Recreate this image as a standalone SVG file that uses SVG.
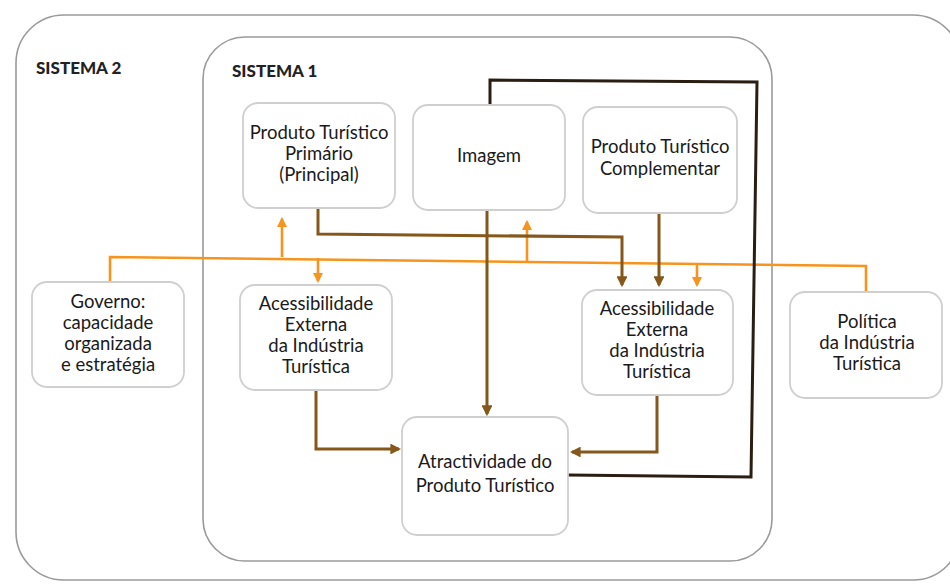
<svg xmlns="http://www.w3.org/2000/svg" width="950" height="584" viewBox="0 0 950 584">
<defs>
<style>
.frame{fill:none;stroke:#9a9a9a;stroke-width:1.6}
.node{fill:#fff;stroke:#cfcfcf;stroke-width:1.8}
.t{font-family:Lato,"Open Sans",sans-serif;font-size:18.5px;fill:#1a1a1a;text-anchor:middle}
.h{font-family:Lato,"Open Sans",sans-serif;font-size:17px;font-weight:900;fill:#222}
.or{fill:none;stroke:#f7941d;stroke-width:2.6}
.br{fill:none;stroke:#85571a;stroke-width:3}
.bk{fill:none;stroke:#2a1d12;stroke-width:3}
</style>
<marker id="ao" viewBox="0 0 10 10" refX="8" refY="5" markerWidth="4" markerHeight="4" orient="auto" markerUnits="strokeWidth">
<path d="M0,0 L10,5 L0,10 z" fill="#f7941d"/>
</marker>
<marker id="ab" viewBox="0 0 10 10" refX="8" refY="5" markerWidth="3.6" markerHeight="3.6" orient="auto" markerUnits="strokeWidth">
<path d="M0,0 L10,5 L0,10 z" fill="#85571a"/>
</marker>
</defs>
<rect width="950" height="584" fill="#fff"/>
<g id="sistema2">
<rect class="frame" x="16" y="15" width="945" height="565" rx="48"/>
<text class="h" x="36" y="74">SISTEMA 2</text>
</g>
<g id="sistema1">
<rect class="frame" x="203" y="37" width="569" height="524" rx="42"/>
<text class="h" x="232" y="77">SISTEMA 1</text>
</g>
<g id="connectors">
<path class="or" d="M110,282 V257 L866,266 V292"/>
<path class="or" d="M282,257 V219" marker-end="url(#ao)"/>
<path class="or" d="M318,258 V281" marker-end="url(#ao)"/>
<path class="or" d="M527,262 V222" marker-end="url(#ao)"/>
<path class="or" d="M697,264 V285" marker-end="url(#ao)"/>
<path class="br" d="M318,208 V234 L622,237 V285" marker-end="url(#ab)"/>
<path class="br" d="M659,213 V285" marker-end="url(#ab)"/>
<path class="br" d="M487,210 V414" marker-end="url(#ab)"/>
<path class="br" d="M316,390 V449 H399" marker-end="url(#ab)"/>
<path class="br" d="M657,395 V452 H572" marker-end="url(#ab)"/>
<path class="bk" d="M490,105 V80 L757,82 L751,477 L568,475"/>
</g>
<g id="primario">
<rect class="node" x="243" y="103" width="152" height="105" rx="15"/>
<text class="t" x="319" y="139">Produto Turístico</text>
<text class="t" x="319" y="160">Primário</text>
<text class="t" x="319" y="181">(Principal)</text>
</g>
<g id="imagem">
<rect class="node" x="413" y="105" width="152" height="105" rx="15"/>
<text class="t" x="489" y="162">Imagem</text>
</g>
<g id="complementar">
<rect class="node" x="583" y="107" width="154" height="106" rx="15"/>
<text class="t" x="660" y="153">Produto Turístico</text>
<text class="t" x="660" y="175">Complementar</text>
</g>
<g id="governo">
<rect class="node" x="32" y="282" width="152" height="105" rx="15"/>
<text class="t" x="108" y="308">Governo:</text>
<text class="t" x="108" y="329">capacidade</text>
<text class="t" x="108" y="350">organizada</text>
<text class="t" x="108" y="371">e estratégia</text>
</g>
<g id="acess1">
<rect class="node" x="240" y="285" width="152" height="105" rx="15"/>
<text class="t" x="316" y="310">Acessibilidade</text>
<text class="t" x="316" y="331">Externa</text>
<text class="t" x="316" y="352">da Indústria</text>
<text class="t" x="316" y="373">Turística</text>
</g>
<g id="acess2">
<rect class="node" x="582" y="290" width="151" height="105" rx="15"/>
<text class="t" x="657" y="315">Acessibilidade</text>
<text class="t" x="657" y="336">Externa</text>
<text class="t" x="657" y="357">da Indústria</text>
<text class="t" x="657" y="378">Turística</text>
</g>
<g id="politica">
<rect class="node" x="790" y="292" width="152" height="106" rx="15"/>
<text class="t" x="867" y="328">Política</text>
<text class="t" x="867" y="349">da Indústria</text>
<text class="t" x="867" y="370">Turística</text>
</g>
<g id="atractividade">
<rect class="node" x="402" y="417" width="166" height="118" rx="15"/>
<text class="t" x="485" y="468">Atractividade do</text>
<text class="t" x="485" y="492">Produto Turístico</text>
</g>
</svg>
